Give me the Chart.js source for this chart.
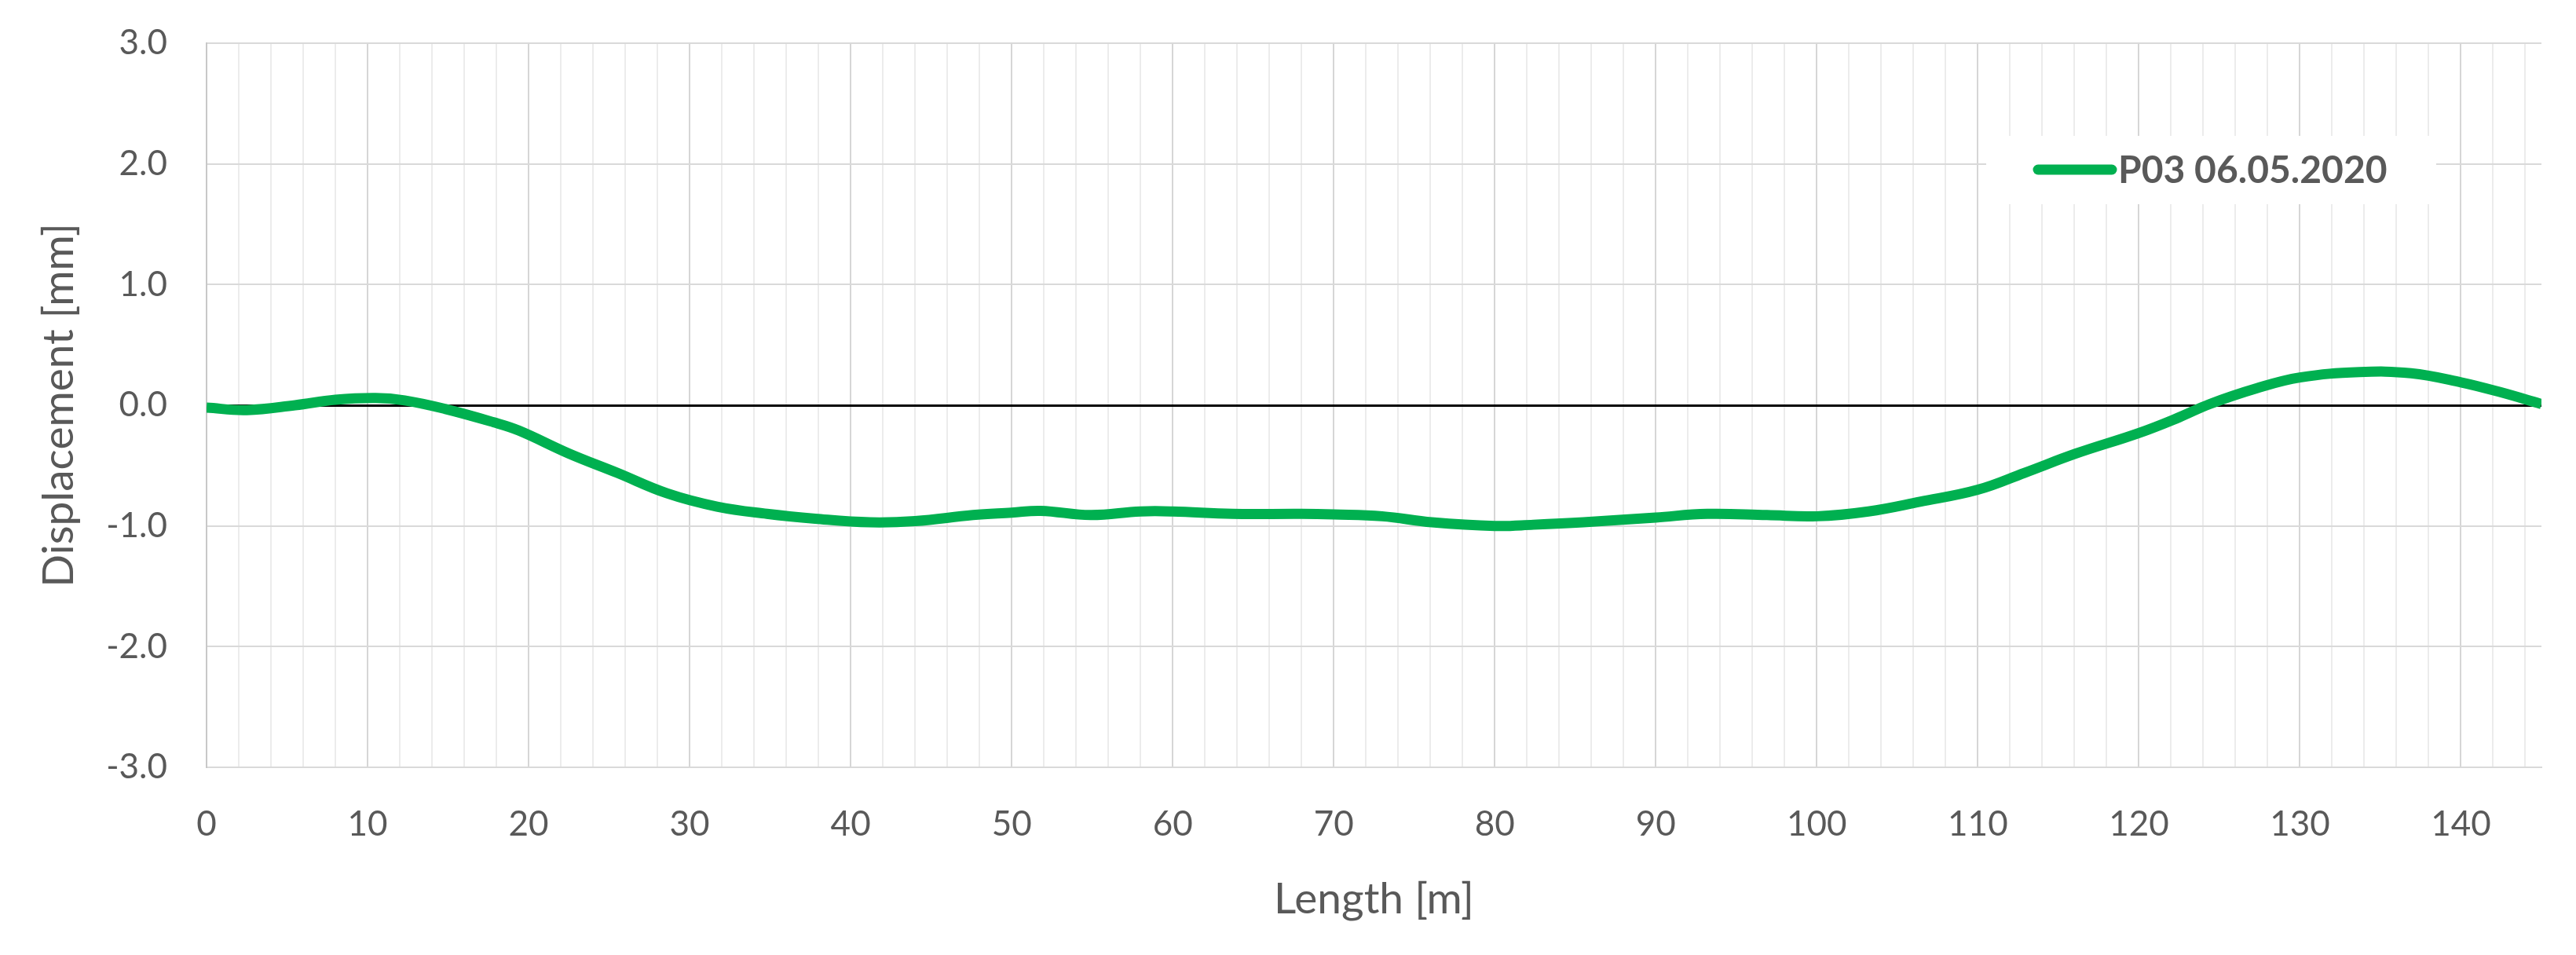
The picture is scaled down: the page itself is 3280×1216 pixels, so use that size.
<!DOCTYPE html>
<html>
<head>
<meta charset="utf-8">
<title>P03 displacement</title>
<script src="https://cdn.jsdelivr.net/npm/chart.js@4.4.1/dist/chart.umd.min.js"></script>
<style>
    html, body { margin: 0; padding: 0; background: #ffffff; }
    #wrap { width: 3280px; height: 1216px; position: relative; }
</style>
</head>
<body>
<div id="wrap"><canvas id="displacementChart"></canvas></div>
<script>
// values
const lengths = [
    0, 2.5, 5.5, 8, 10.5, 12.3, 14.8, 17.8, 19.4, 22.5,
    25.5, 28.6, 31.7, 34.8, 37.8, 41.2, 44, 47.6, 50, 51.8,
    54.9, 58, 60, 63.7, 68, 70, 73, 76.1, 80, 82.4,
    85.5, 90, 93.2, 96.9, 100, 103.2, 106.4, 110, 112.9, 116.1,
    120, 122.5, 124.4, 127.3, 130, 133.7, 136.9, 140, 142.4, 145
];
const displacements = [
    -0.02, -0.04, 0.00, 0.045, 0.06, 0.04, -0.03, -0.14, -0.21, -0.40,
    -0.56, -0.73, -0.84, -0.90, -0.94, -0.97, -0.96, -0.91, -0.89, -0.875,
    -0.91, -0.88, -0.88, -0.90, -0.90, -0.905, -0.92, -0.97, -1.00, -0.99,
    -0.97, -0.93, -0.90, -0.91, -0.92, -0.88, -0.80, -0.70, -0.56, -0.40,
    -0.23, -0.10, 0.01, 0.14, 0.23, 0.275, 0.265, 0.19, 0.11, 0.01
];
const seriesLabel = "P03 06.05.2020";
const xTitle = "Length [m]";
const yTitle = "Displacement [mm]";
const xMin = 0, xMax = 145, xMinorStep = 2, xLabelStep = 10;
const yMin = -3, yMax = 3, yStep = 1;

const FONT = 'Lato, "Open Sans", sans-serif';
const TEXT = "#595959";
const GREEN = "#00b050";

// legend box drawn inside the plot, top right
const boxLegend = {
    id: "boxLegend",
    afterDraw(chart) {
        const ctx = chart.ctx;
        const ca = chart.chartArea;
        const ds = chart.data.datasets[0];
        const x0 = ca.right - 707, y0 = ca.top + 118;
        ctx.save();
        ctx.fillStyle = "#ffffff";
        ctx.fillRect(x0, y0, 573, 87);
        const ly = y0 + 43;
        ctx.strokeStyle = ds.borderColor;
        ctx.lineWidth = 13;
        ctx.lineCap = "round";
        ctx.beginPath();
        ctx.moveTo(x0 + 66, ly);
        ctx.lineTo(x0 + 160, ly);
        ctx.stroke();
        ctx.fillStyle = TEXT;
        ctx.font = "bold 48px " + FONT;
        ctx.textBaseline = "middle";
        ctx.fillText(ds.label, x0 + 168, ly + 2);
        ctx.restore();
    }
};

function initChart() {
    const el = document.getElementById("displacementChart");
    new Chart(el, {
        type: "line",
        data: {
            datasets: [{
                label: seriesLabel,
                data: lengths.map((x, i) => ({ x: x, y: displacements[i] })),
                borderColor: GREEN,
                backgroundColor: GREEN,
                borderWidth: 13,
                pointRadius: 0,
                tension: 0.4,
                fill: false,
                clip: 0
            }]
        },
        options: {
            responsive: true,
            maintainAspectRatio: false,
            devicePixelRatio: 1,
            animation: false,
            layout: { padding: { top: 55, right: 44, bottom: 0, left: 0 } },
            scales: {
                x: {
                    type: "linear",
                    min: xMin,
                    max: xMax,
                    afterFit: s => {
                        s.height = 239;
                        s.paddingLeft = 0;
                        s.paddingRight = 0;
                    },
                    ticks: {
                        stepSize: xMinorStep,
                        includeBounds: false,
                        autoSkip: false,
                        maxRotation: 0,
                        padding: 46,
                        color: TEXT,
                        font: { family: FONT, size: 44 },
                        callback: v => (v % xLabelStep === 0 ? v : "")
                    },
                    grid: {
                        drawTicks: false,
                        lineWidth: 2,
                        color: c => (c.tick && c.tick.value % xLabelStep === 0 ? "#d6d6d6" : "#ececec")
                    },
                    border: { display: true, color: "#d9d9d9", width: 2 },
                    title: {
                        display: true,
                        text: xTitle,
                        color: TEXT,
                        font: { family: FONT, size: 55 },
                        padding: { top: 0, bottom: 38 }
                    }
                },
                y: {
                    min: yMin,
                    max: yMax,
                    afterFit: s => {
                        s.width = 263;
                        s.paddingTop = 0;
                        s.paddingBottom = 0;
                    },
                    ticks: {
                        stepSize: yStep,
                        padding: 50,
                        color: TEXT,
                        font: { family: FONT, size: 44 },
                        callback: v => v.toFixed(1)
                    },
                    grid: {
                        drawTicks: false,
                        lineWidth: c => (c.tick && c.tick.value === 0 ? 3 : 2),
                        color: c => (c.tick && c.tick.value === 0 ? "#000000" : "#d9d9d9")
                    },
                    border: { display: true, color: "#c8c8c8", width: 2 },
                    title: {
                        display: true,
                        text: yTitle,
                        color: TEXT,
                        font: { family: FONT, size: 55 },
                        padding: { top: 42, bottom: 0 }
                    }
                }
            },
            plugins: {
                legend: { display: false },
                tooltip: { enabled: false }
            }
        },
        plugins: [boxLegend]
    });
}

document.addEventListener("DOMContentLoaded", initChart);
</script>
</body>
</html>
